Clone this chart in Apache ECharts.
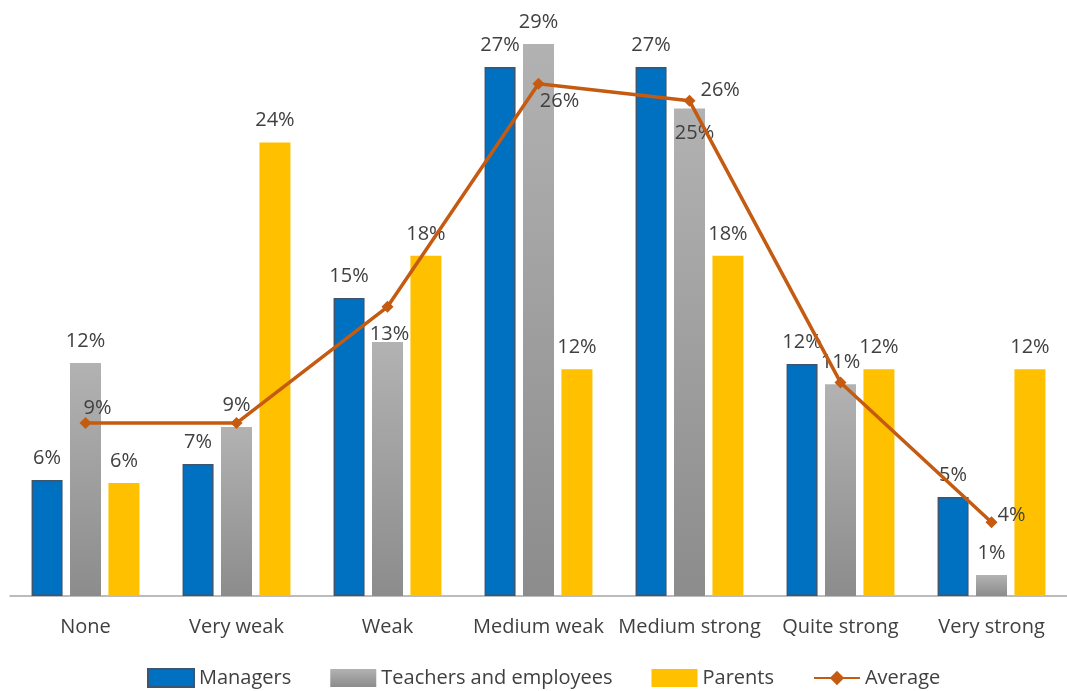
<!DOCTYPE html>
<html>
<head>
<meta charset="utf-8">
<script src="https://cdn.jsdelivr.net/npm/echarts@6/dist/echarts.min.js"></script>
<style>
html,body{margin:0;padding:0;background:#fff;}
#chart{width:1067px;height:691px;}
</style>
</head>
<body>
<div id="chart"></div>
<script>
// ---- Data ----
const categories = ['None', 'Very weak', 'Weak', 'Medium weak', 'Medium strong', 'Quite strong', 'Very strong'];
const managers = [6.14, 6.98, 15.77, 27.99, 27.99, 12.28, 5.24];
const teachers = [12.33, 8.94, 13.44, 29.2, 25.8, 11.2, 1.11];
const parents = [5.98, 24.0, 18.0, 12.0, 18.0, 12.0, 12.0];
const average = [9.15, 9.15, 15.3, 27.1, 26.2, 11.3, 3.9];
// printed data-label texts
const managersLabels = ['6%', '7%', '15%', '27%', '27%', '12%', '5%'];
const teachersLabels = ['12%', '9%', '13%', '29%', '25%', '11%', '1%'];
const parentsLabels = ['6%', '24%', '18%', '12%', '18%', '12%', '12%'];
const averageLabels = ['9%', '', '', '26%', '26%', '', '4%'];

const FONT = '"Open Sans", "Liberation Sans", sans-serif';
const TXT = '#404040';

const baseLabel = {
  show: true, position: 'top', distance: 12,
  fontFamily: FONT, fontSize: 20, color: TXT
};

function barData(vals, labels, overrides) {
  return vals.map((v, i) => {
    const d = { value: v, label: Object.assign({}, baseLabel, { formatter: labels[i] }) };
    if (overrides && overrides[i]) Object.assign(d.label, overrides[i]);
    return d;
  });
}

const teacherOverrides = {
  2: { offset: [2, 14] },
  4: { position: 'insideTop', distance: 5, offset: [5, 10] }
};

const avgLabelOverrides = {
  0: { position: 'top', distance: 5, offset: [12, 6] },
  3: { position: 'bottom', distance: 5, offset: [21, -4] },
  4: { position: 'right', distance: 5, offset: [0, -11] },
  6: { position: 'right', distance: 5, offset: [-5, -7] }
};

const avgData = average.map((v, i) => {
  const d = { value: v };
  if (averageLabels[i]) {
    d.label = Object.assign({ show: true, fontFamily: FONT, fontSize: 20, color: TXT, formatter: averageLabels[i] }, avgLabelOverrides[i] || {});
  } else {
    d.label = { show: false };
  }
  return d;
});

const chart = echarts.init(document.getElementById('chart'), null, { renderer: 'canvas' });

const option = {
  backgroundColor: '#ffffff',
  animation: false,
  grid: { left: 10, right: -1, top: 29, bottom: 95, containLabel: false },
  legend: {
    left: 142, top: 663,
    itemWidth: 46, itemHeight: 18, itemGap: 39,
    textStyle: { fontFamily: FONT, fontSize: 20, color: TXT },
    data: [
      { name: 'Managers', icon: 'rect' },
      { name: 'Teachers and employees', icon: 'rect' },
      { name: 'Parents', icon: 'rect' },
      { name: 'Average' }
    ]
  },
  xAxis: {
    type: 'category',
    data: categories,
    axisLine: { show: true, lineStyle: { color: '#A6A6A6', width: 1.5 } },
    axisTick: { show: false },
    axisLabel: { margin: 21, fontFamily: FONT, fontSize: 20, color: TXT, interval: 0 }
  },
  yAxis: {
    type: 'value', min: 0, max: 30,
    show: false,
    splitLine: { show: false }
  },
  series: [
    {
      name: 'Managers', type: 'bar',
      barWidth: 31, barGap: '24%',
      itemStyle: { color: '#0070C0', borderColor: '#3E5570', borderWidth: 1.5 },
      data: barData(managers, managersLabels)
    },
    {
      name: 'Teachers and employees', type: 'bar',
      barWidth: 31, barGap: '24%',
      itemStyle: {
        color: new echarts.graphic.LinearGradient(0, 0, 0, 1, [
          { offset: 0, color: '#B2B2B2' },
          { offset: 1, color: '#8C8C8C' }
        ])
      },
      data: barData(teachers, teachersLabels, teacherOverrides)
    },
    {
      name: 'Parents', type: 'bar',
      barWidth: 31, barGap: '24%',
      itemStyle: { color: '#FFC000' },
      data: barData(parents, parentsLabels)
    },
    {
      name: 'Average', type: 'line',
      symbol: 'diamond', symbolSize: 12,
      lineStyle: { color: '#C55A11', width: 3.5 },
      itemStyle: { color: '#C55A11' },
      z: 5,
      data: avgData
    }
  ]
};

chart.setOption(option);
</script>
</body>
</html>
